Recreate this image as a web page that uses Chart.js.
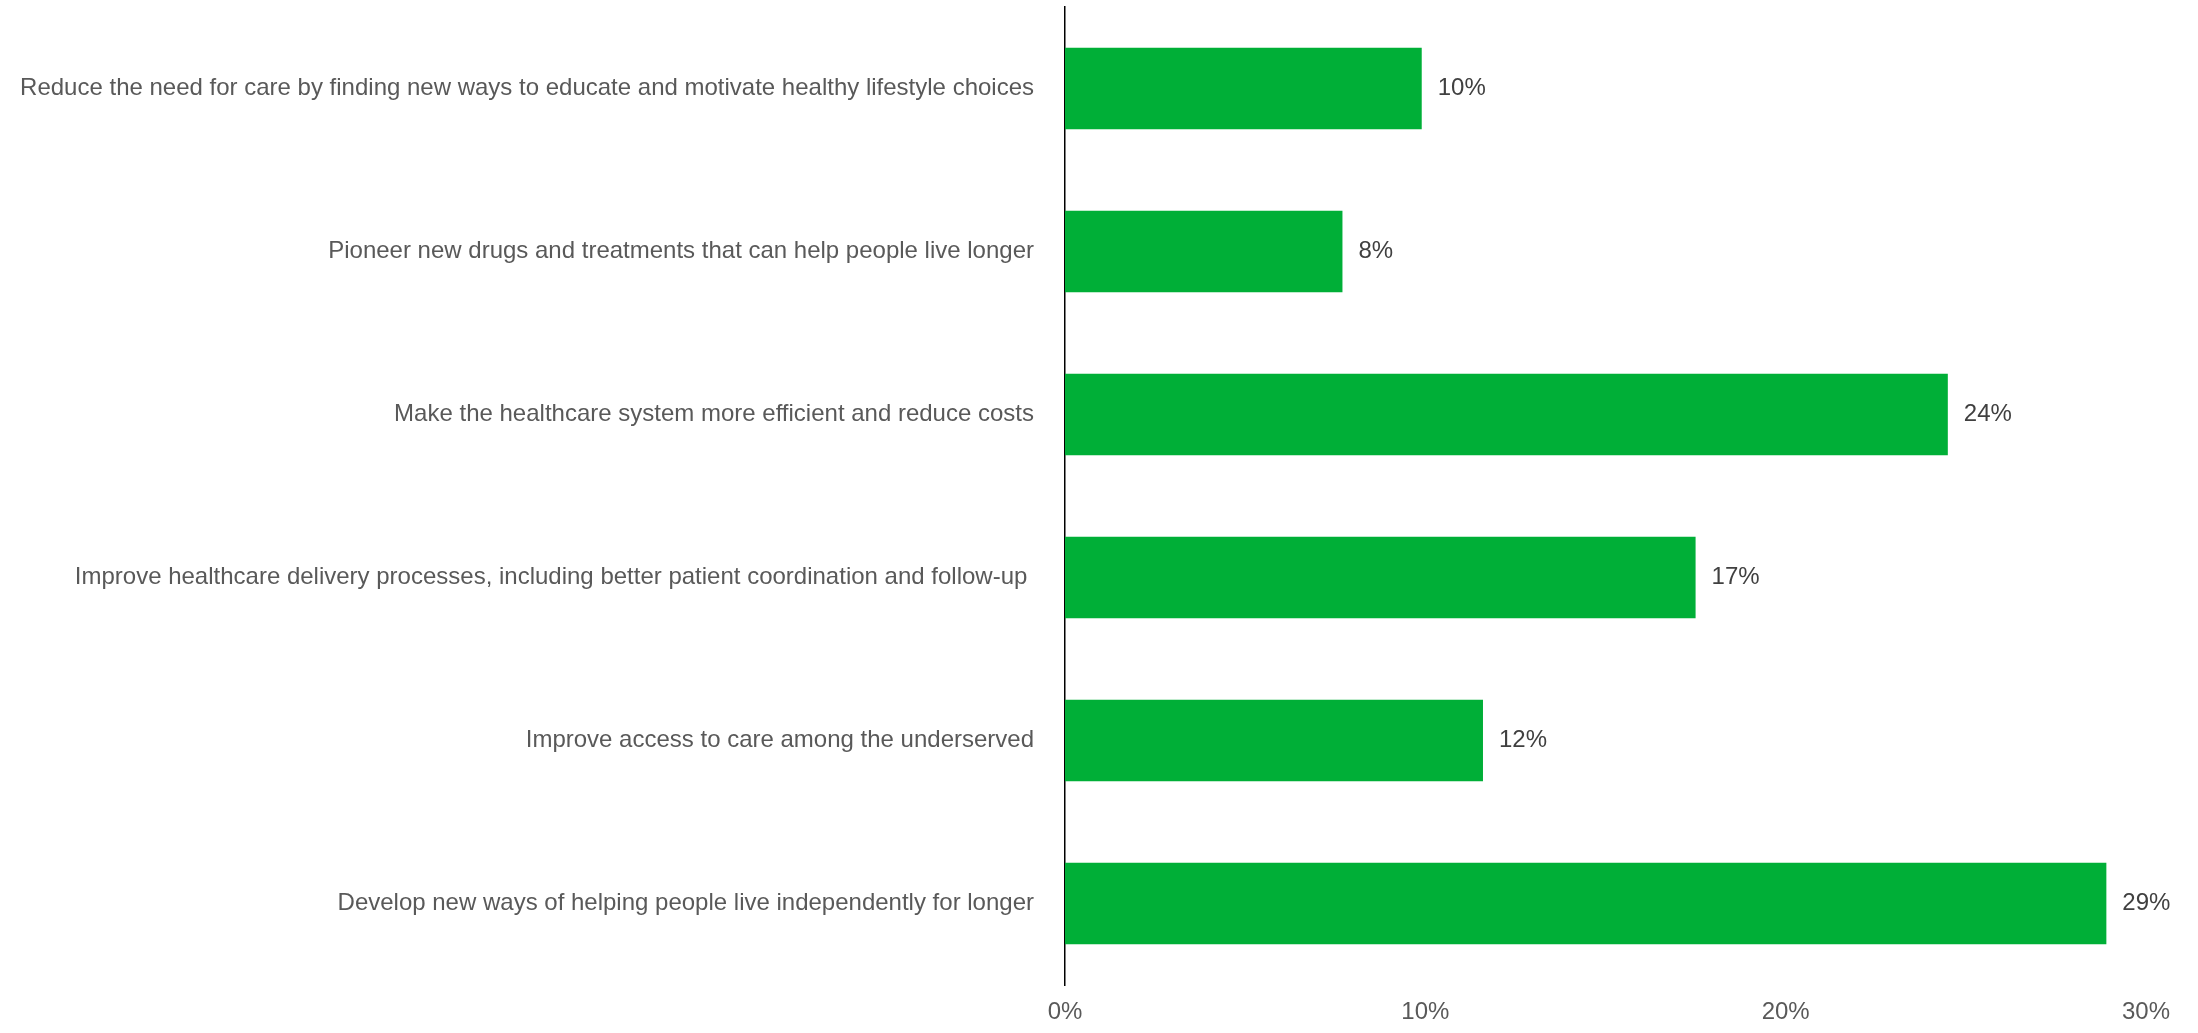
<!DOCTYPE html>
<html>
<head>
<meta charset="utf-8">
<script src="https://cdn.jsdelivr.net/npm/chart.js@4.4.1/dist/chart.umd.min.js"></script>
<style>
body{margin:0;background:#fff}
#wrap{width:2198px;height:1033px}
</style>
</head>
<body>
<div id="wrap"><canvas id="c" width="2198" height="1033"></canvas></div>
<script>
const categories=[
'Reduce the need for care by finding new ways to educate and motivate healthy lifestyle choices',
'Pioneer new drugs and treatments that can help people live longer',
'Make the healthcare system more efficient and reduce costs',
'Improve healthcare delivery processes, including better patient coordination and follow-up ',
'Improve access to care among the underserved',
'Develop new ways of helping people live independently for longer'
]
const values=[9.9,7.7,24.5,17.5,11.6,28.9]
const valueLabels=['10%','8%','24%','17%','12%','29%']
const xTicks=[0,10,20,30]

const fontFamily='"Liberation Sans", Arial, sans-serif'

const barLabels={
id:'barLabels',
afterDatasetsDraw(chart){
const ctx=chart.ctx
const meta=chart.getDatasetMeta(0)
ctx.save()
ctx.font='24px '+fontFamily
ctx.fillStyle='#404040'
ctx.textAlign='left'
ctx.textBaseline='middle'
meta.data.forEach((bar,i)=>{
ctx.fillText(valueLabels[i],bar.x+16,bar.y)
})
ctx.restore()
}
}

new Chart(document.getElementById('c'),{
type:'bar',
data:{
labels:categories,
datasets:[{
data:values,
backgroundColor:'#00AF37',
borderWidth:0,
barPercentage:0.5,
categoryPercentage:1
}]
},
options:{
indexAxis:'y',
responsive:false,
animation:false,
layout:{padding:{top:7,right:52,bottom:0,left:0}},
plugins:{legend:{display:false},tooltip:{enabled:false}},
scales:{
x:{
min:0,max:30,
afterBuildTicks(s){s.ticks=xTicks.map(v=>({value:v}))},
afterFit(s){s.height=48;s.paddingLeft=0;s.paddingRight=0},
grid:{display:false,drawTicks:false},
border:{display:false},
ticks:{
padding:13,
color:'#595959',
font:{family:fontFamily,size:24},
callback:v=>v+'%'
}
},
y:{
afterFit(s){s.width=1065;s.paddingTop=0;s.paddingBottom=0},
grid:{display:false,drawTicks:false},
border:{display:true,color:'#000',width:1.5},
ticks:{
padding:31,
color:'#595959',
font:{family:fontFamily,size:24}
}
}
}
},
plugins:[barLabels]
})
</script>
</body>
</html>
